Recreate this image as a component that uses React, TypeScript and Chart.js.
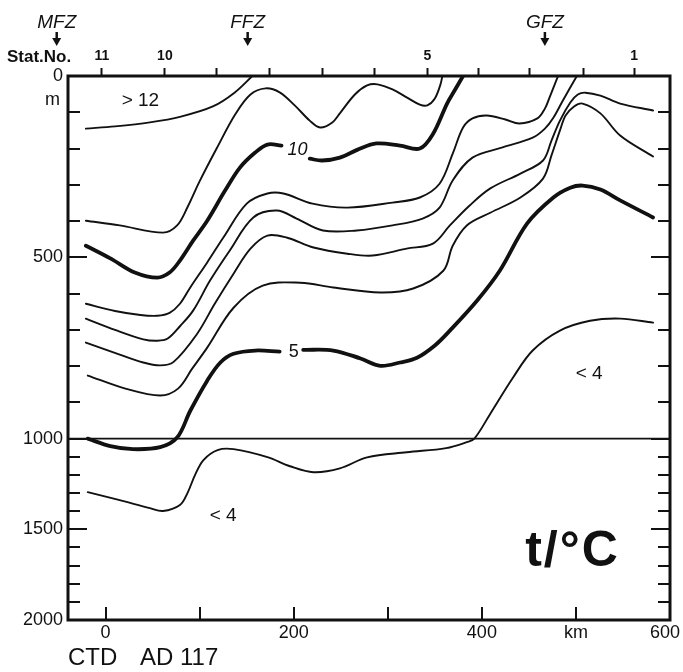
import React, { useEffect, useRef } from "react";
import { Chart, registerables, LinearScale } from "chart.js";

// ---------------- data ----------------
const kmTicks = [0, 100, 200, 300, 400, 500, 600];
const kmTickLabels = ["0", "", "200", "", "400", "km", "600  "];
const depthTicks = [0, 100, 200, 300, 400, 500, 600, 700, 800, 900, 1000, 1100, 1200, 1300, 1400, 1500, 1600, 1700, 1800, 1900, 2000];
const depthTickLabels = ["0", "", "", "", "", "500", "", "", "", "", "1000", "", "", "", "", "1500", "", "", "", "", "2000"];
const stationKm = [-4, 63, 118, 174, 231, 286, 342, 396, 451, 508, 562];
const stationLabels = ["11", "10", "", "", "", "", "5", "", "", "", "1"];
const frontNames = ["MFZ", "FFZ", "GFZ"];
const frontKm = [-52, 151, 467];

// isotherms: distance (km) and depth (m)
const t12Km = [-21, 10, 47, 80, 114, 137, 156];
const t12Depth = [145, 139, 128, 112, 84, 46, 0];

const t11Km = [-21, 15, 61, 76, 87, 100, 118, 138, 154, 170, 185, 201, 217, 228, 241, 249, 265, 278, 289, 305, 320, 334, 342, 350, 356, 358];
const t11Depth = [399, 412, 432, 412, 362, 290, 200, 105, 51, 34, 45, 81, 123, 142, 128, 103, 51, 26, 23, 37, 59, 79, 81, 62, 23, 0];

const t10Km = [-21, 5, 31, 55, 68, 79, 93, 108, 127, 143, 159, 172, 187, 198, 217, 230, 249, 268, 288, 313, 334, 348, 363, 371, 380];
const t10Depth = [468, 503, 542, 556, 542, 509, 454, 399, 316, 252, 211, 189, 192, null, 228, 233, 225, 203, 186, 192, 200, 160, 76, 40, 0];

const t9Km = [-21, 10, 37, 55, 68, 79, 90, 108, 125, 150, 172, 189, 220, 257, 305, 334, 355, 369, 380, 390, 405, 425, 440, 459, 467, 472, 481];
const t9Depth = [628, 648, 659, 661, 653, 628, 583, 514, 446, 352, 324, 324, 352, 363, 349, 335, 297, 214, 142, 117, 109, 120, 131, 117, 90, 59, 0];

const t8Km = [-21, 10, 40, 55, 66, 79, 93, 111, 132, 157, 182, 203, 231, 267, 305, 337, 355, 369, 390, 422, 454, 467, 476, 486, 501];
const t8Depth = [669, 700, 726, 730, 724, 690, 647, 564, 481, 390, 371, 393, 426, 426, 412, 393, 363, 288, 225, 197, 170, 145, 115, 68, 0];

const t7Km = [-21, 15, 40, 58, 72, 97, 116, 136, 154, 172, 193, 221, 257, 284, 320, 348, 366, 387, 409, 441, 465, 474, 483, 494, 502, 510, 526, 547, 582];
const t7Depth = [735, 768, 790, 798, 789, 712, 628, 545, 476, 440, 446, 473, 490, 495, 476, 462, 412, 357, 310, 269, 233, 178, 123, 73, 51, 46, 54, 76, 95];

const t6Km = [-19, 21, 58, 77, 92, 108, 136, 167, 207, 242, 292, 327, 359, 369, 384, 409, 441, 465, 474, 483, 489, 498, 507, 526, 547, 582];
const t6Depth = [826, 862, 881, 862, 807, 749, 639, 578, 570, 583, 597, 586, 537, 468, 412, 377, 335, 283, 219, 150, 109, 84, 76, 103, 164, 222];

const t5Km = [-19, 5, 29, 58, 76, 90, 108, 122, 136, 159, 185, 197, 210, 242, 271, 292, 313, 331, 350, 366, 395, 419, 448, 476, 494, 507, 526, 547, 582];
const t5Depth = [1000, 1041, 1058, 1047, 997, 923, 840, 790, 766, 757, 760, null, 755, 757, 779, 799, 790, 777, 743, 702, 619, 537, 407, 335, 308, 302, 313, 343, 390];

const t4Km = [-19, 15, 47, 61, 79, 87, 95, 104, 119, 136, 172, 196, 221, 249, 278, 320, 362, 384, 392, 409, 433, 454, 483, 515, 547, 582];
const t4Depth = [1295, 1339, 1383, 1399, 1366, 1300, 1201, 1118, 1063, 1058, 1102, 1152, 1185, 1164, 1103, 1075, 1052, 1019, 1000, 931, 832, 757, 702, 675, 669, 680];

const refKm = [-40, 600];
const refDepth = [1000, 1000];

const contours = [
  { name: "12", km: t12Km, depth: t12Depth },
  { name: "11", km: t11Km, depth: t11Depth },
  { name: "10", km: t10Km, depth: t10Depth },
  { name: "9", km: t9Km, depth: t9Depth },
  { name: "8", km: t8Km, depth: t8Depth },
  { name: "7", km: t7Km, depth: t7Depth },
  { name: "6", km: t6Km, depth: t6Depth },
  { name: "5", km: t5Km, depth: t5Depth },
  { name: "4", km: t4Km, depth: t4Depth },
];
const boldContours = ["10", "5"];

// annotation texts placed in data coordinates
const contourLabels = [
  { text: "10", km: 204, depth: 205, italic: true },
  { text: "5", km: 200, depth: 760, italic: false },
];
const regionLabels = [
  { text: "> 12", km: 37, depth: 68 },
  { text: "< 4", km: 125, depth: 1427 },
  { text: "< 4", km: 514, depth: 821 },
];

// ---------------- styling ----------------
const INK = "#111111";
const FONT = "'Liberation Sans', Arial, Helvetica, sans-serif";
const DEPTH_BREAK = 1000; // axis is stretched above this depth
const UPPER_FRACTION = 2 / 3; // share of the axis used by 0..1000 m

class DepthScale extends LinearScale {
  static id = "depth";
  static defaults = {};
  _depthToDecimal(v: number) {
    const min = this.min as number;
    const max = this.max as number;
    if (v <= DEPTH_BREAK) return ((v - min) / (DEPTH_BREAK - min)) * UPPER_FRACTION;
    return UPPER_FRACTION + ((v - DEPTH_BREAK) / (max - DEPTH_BREAK)) * (1 - UPPER_FRACTION);
  }
  getPixelForValue(value: any) {
    if (value === null || value === undefined || Number.isNaN(+value)) return NaN;
    return this.getPixelForDecimal(this._depthToDecimal(+value));
  }
  getValueForPixel(pixel: number) {
    const d = this.getDecimalForPixel(pixel);
    const min = this.min as number;
    const max = this.max as number;
    if (d <= UPPER_FRACTION) return min + (d / UPPER_FRACTION) * (DEPTH_BREAK - min);
    return DEPTH_BREAK + ((d - UPPER_FRACTION) / (1 - UPPER_FRACTION)) * (max - DEPTH_BREAK);
  }
}

Chart.register(...registerables, DepthScale as any);

function drawText(ctx: CanvasRenderingContext2D, s: string, x: number, y: number, font: string, align: CanvasTextAlign = "center", baseline: CanvasTextBaseline = "middle") {
  ctx.font = font;
  ctx.textAlign = align;
  ctx.textBaseline = baseline;
  ctx.fillText(s, x, y);
}

const decorPlugin = {
  id: "decor",
  beforeDraw(chart: any) {
    const { ctx, width, height } = chart;
    ctx.save();
    ctx.fillStyle = "#ffffff";
    ctx.fillRect(0, 0, width, height);
    ctx.restore();
  },
  afterDatasetsDraw(chart: any) {
    const { ctx, chartArea: a, scales } = chart;
    const xs = scales.x;
    const ys = scales.y;
    ctx.save();
    ctx.strokeStyle = INK;
    ctx.fillStyle = INK;
    ctx.lineCap = "butt";

    // inward ticks on left / right
    ctx.lineWidth = 2;
    depthTicks.forEach((d, i) => {
      if (d === depthTicks[0] || d === depthTicks[depthTicks.length - 1]) return;
      const py = Math.round(ys.getPixelForValue(d));
      const len = depthTickLabels[i] ? 19 : 12;
      ctx.beginPath();
      ctx.moveTo(a.left, py);
      ctx.lineTo(a.left + len, py);
      ctx.moveTo(a.right, py);
      ctx.lineTo(a.right - len, py);
      ctx.stroke();
    });
    // inward ticks on bottom
    kmTicks.forEach((k) => {
      const px = Math.round(xs.getPixelForValue(k));
      ctx.beginPath();
      ctx.moveTo(px, a.bottom);
      ctx.lineTo(px, a.bottom - 13);
      ctx.stroke();
    });

    // frame
    ctx.lineWidth = 3;
    ctx.strokeRect(a.left, a.top, a.right - a.left, a.bottom - a.top);

    // contour labels
    contourLabels.forEach((l) => {
      drawText(ctx, l.text, xs.getPixelForValue(l.km), ys.getPixelForValue(l.depth), `${l.italic ? "italic " : ""}18px ${FONT}`);
    });
    regionLabels.forEach((l) => {
      drawText(ctx, l.text, xs.getPixelForValue(l.km), ys.getPixelForValue(l.depth), `19px ${FONT}`);
    });

    // big parameter label
    ctx.save();
    (ctx as any).letterSpacing = "2px";
    drawText(ctx, "t/°C", xs.getPixelForValue(446), ys.getPixelForValue(1700), `bold 50px ${FONT}`, "left", "alphabetic");
    ctx.restore();

    // unit "m" under 0
    drawText(ctx, "m", a.left - 8, a.top + 24, `18px ${FONT}`, "right");

    // Stat.No.
    drawText(ctx, "Stat.No.", 7, a.top - 19, `bold 17px ${FONT}`, "left");

    // fronts with arrows
    frontNames.forEach((n, i) => {
      const px = xs.getPixelForValue(frontKm[i]);
      drawText(ctx, n, px, a.top - 53, `italic 19px ${FONT}`);
      ctx.lineWidth = 2.5;
      ctx.beginPath();
      ctx.moveTo(px, a.top - 44);
      ctx.lineTo(px, a.top - 37);
      ctx.stroke();
      ctx.beginPath();
      ctx.moveTo(px - 4.5, a.top - 38);
      ctx.lineTo(px + 4.5, a.top - 38);
      ctx.lineTo(px, a.top - 30);
      ctx.closePath();
      ctx.fill();
    });

    // caption
    drawText(ctx, "CTD", a.left, a.bottom + 38, `24px ${FONT}`, "left");
    drawText(ctx, "AD 117", a.left + 72, a.bottom + 38, `24px ${FONT}`, "left");
    ctx.restore();
  },
};

export default function App() {
  const ref = useRef<HTMLCanvasElement>(null);
  useEffect(() => {
    document.body.style.margin = "0";
    const canvas = ref.current;
    if (!canvas) return;

    const datasets: any[] = contours.map((c) => ({
      label: c.name,
      data: c.km.map((x, i) => ({ x, y: c.depth[i] })),
      borderColor: INK,
      borderWidth: boldContours.includes(c.name) ? 3.8 : 1.9,
      pointRadius: 0,
      fill: false,
      spanGaps: false,
      tension: 0.35,
      borderCapStyle: "round",
      borderJoinStyle: "round",
    }));
    datasets.push({
      label: "1000 m",
      data: refKm.map((x, i) => ({ x, y: refDepth[i] })),
      borderColor: INK,
      borderWidth: 1.6,
      pointRadius: 0,
      fill: false,
    });

    const tickFont = { family: FONT, size: 18 };
    const chart = new Chart(canvas, {
      type: "line",
      data: { datasets },
      plugins: [decorPlugin],
      options: {
        responsive: false,
        animation: false,
        devicePixelRatio: 1,
        events: [],
        layout: { padding: { left: 0, right: 13, top: 0, bottom: 0 } },
        plugins: { legend: { display: false }, tooltip: { enabled: false }, title: { display: false } },
        scales: {
          x: {
            type: "linear",
            position: "bottom",
            min: -40,
            max: 600,
            afterBuildTicks: (s: any) => { s.ticks = kmTicks.map((v) => ({ value: v })); },
            afterFit: (s: any) => { s.height = 52; s.paddingLeft = 0; s.paddingRight = 0; },
            grid: { display: false, drawTicks: false },
            border: { display: false },
            ticks: {
              autoSkip: false,
              maxRotation: 0,
              padding: 2,
              color: INK,
              font: tickFont,
              callback: (v: any) => kmTickLabels[kmTicks.indexOf(Number(v))] ?? "",
            },
          },
          x2: {
            type: "linear",
            position: "top",
            min: -40,
            max: 600,
            afterBuildTicks: (s: any) => { s.ticks = stationKm.map((v) => ({ value: v })); },
            afterFit: (s: any) => { s.height = 76; s.paddingLeft = 0; s.paddingRight = 0; },
            grid: { display: true, drawOnChartArea: false, drawTicks: true, tickLength: 8, tickWidth: 2, tickColor: INK, color: INK },
            border: { display: false },
            ticks: {
              autoSkip: false,
              maxRotation: 0,
              padding: 3,
              color: INK,
              font: { family: FONT, size: 14, weight: "bold" },
              callback: (v: any) => stationLabels[stationKm.indexOf(Number(v))] ?? "",
            },
          },
          y: {
            type: "depth" as any,
            min: 0,
            max: 2000,
            reverse: true,
            afterBuildTicks: (s: any) => { s.ticks = depthTicks.map((v) => ({ value: v })); },
            afterFit: (s: any) => { s.width = 68; s.paddingTop = 0; s.paddingBottom = 0; },
            grid: { display: false, drawTicks: false },
            border: { display: false },
            ticks: {
              autoSkip: false,
              padding: 5,
              color: INK,
              font: tickFont,
              callback: (v: any) => depthTickLabels[depthTicks.indexOf(Number(v))] ?? "",
            },
          },
        },
      } as any,
    });
    return () => chart.destroy();
  }, []);

  return (
    <div style={{ width: 683, height: 672, background: "#fff" }}>
      <canvas ref={ref} width={683} height={672} style={{ display: "block" }} />
    </div>
  );
}
